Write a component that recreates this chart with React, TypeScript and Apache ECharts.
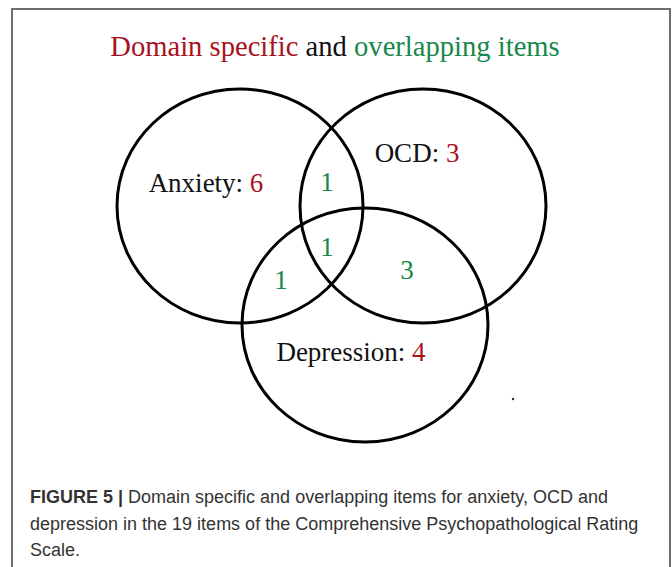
import React, { useEffect, useRef } from "react";
import * as echarts from "echarts";

// ---- data ----
const setNames = ["Anxiety", "OCD", "Depression"];
const setOnlyCounts = [6, 3, 4];
const overlapNames = ["Anxiety ∩ OCD", "Anxiety ∩ OCD ∩ Depression", "Anxiety ∩ Depression", "OCD ∩ Depression"];
const overlapCounts = [1, 1, 1, 3];
const titleParts = ["Domain specific ", "and ", "overlapping items"];
const titleColors = ["#a8121e", "#111111", "#1a874a"];
const captionBold = "FIGURE 5 |";
const captionLines = [
  " Domain specific and overlapping items for anxiety, OCD and",
  "depression in the 19 items of the Comprehensive Psychopathological Rating",
  "Scale.",
];

// ---- layout (frame coordinates) ----
const circleCenters = [[240, 206], [423, 206], [365, 325]];
const circleRadii = [[123, 117], [123, 117], [123, 117]];
const setLabelPos = [[206, 183], [417, 153], [351, 352]];
const overlapLabelPos = [[327, 182], [327, 247], [281, 280], [407, 270]];
const titleCenter = [335, 46];

const SERIF = "Liberation Serif";
const SANS = "Liberation Sans";
const RED = "#a8121e";
const GREEN = "#1a874a";
const TITLE_SIZE = 28.6;

function measure(text: string, font: string) {
  const c = document.createElement("canvas");
  const ctx = c.getContext("2d");
  if (!ctx) return text.length * 12;
  ctx.font = font;
  return ctx.measureText(text).width;
}

export default function App() {
  const ref = useRef<HTMLDivElement>(null);
  useEffect(() => {
    if (!ref.current) return;
    const chart = echarts.init(ref.current, null, { renderer: "svg" });
    const tFont = `${TITLE_SIZE}px "${SERIF}"`;
    const widths = titleParts.map((t) => measure(t, tFont));
    const total = widths.reduce((a, b) => a + b, 0);
    let xCursor = titleCenter[0] - total / 2;
    const titleEls = titleParts.map((t, i) => {
      const el = {
        type: "text",
        silent: true,
        style: {
          x: xCursor,
          y: titleCenter[1],
          text: t,
          font: tFont,
          fill: titleColors[i],
          align: "left",
          verticalAlign: "middle",
        },
      };
      xCursor += widths[i];
      return el;
    });
    chart.setOption({
      animation: false,
      backgroundColor: "#ffffff",
      grid: { left: 0, right: 0, top: 0, bottom: 0 },
      xAxis: { type: "value", min: 0, max: 672, show: false },
      yAxis: { type: "value", min: 0, max: 567, inverse: true, show: false },
      series: [
        {
          type: "custom",
          coordinateSystem: "cartesian2d",
          silent: true,
          clip: false,
          data: circleCenters.map((c, i) => ({
            name: setNames[i],
            value: [c[0], c[1], circleRadii[i][0], circleRadii[i][1]],
          })),
          renderItem: (params: any, api: any) => {
            const p = api.coord([api.value(0), api.value(1)]);
            const s = api.size([api.value(2), api.value(3)]);
            return {
              type: "ellipse",
              shape: { cx: p[0], cy: p[1], rx: s[0], ry: s[1] },
              style: { fill: "none", stroke: "#000", lineWidth: 3 },
            };
          },
        },
        {
          type: "scatter",
          silent: true,
          symbolSize: 1,
          itemStyle: { color: "rgba(0,0,0,0)", opacity: 1 },
          data: setLabelPos.map((p, i) => ({ name: setNames[i], value: p })),
          label: {
            show: true,
            position: "inside",
            opacity: 1,
            formatter: (p: any) => `{n|${p.name}: }{v|${setOnlyCounts[p.dataIndex]}}`,
            rich: {
              n: { fontFamily: SERIF, fontSize: 27, color: "#111" },
              v: { fontFamily: SERIF, fontSize: 27, color: RED },
            },
          },
        },
        {
          type: "scatter",
          silent: true,
          symbolSize: 1,
          itemStyle: { color: "rgba(0,0,0,0)", opacity: 1 },
          data: overlapLabelPos.map((p, i) => ({ name: overlapNames[i], value: p })),
          label: {
            show: true,
            position: "inside",
            opacity: 1,
            formatter: (p: any) => `${overlapCounts[p.dataIndex]}`,
            fontFamily: SERIF,
            fontSize: 27,
            color: GREEN,
          },
        },
      ],
      graphic: [
        {
          type: "rect",
          silent: true,
          shape: { x: 12, y: 9, width: 658, height: 620 },
          style: { fill: "none", stroke: "#6e6e6e", lineWidth: 2 },
        },
        ...titleEls,
        {
          type: "circle",
          silent: true,
          shape: { cx: 513, cy: 399, r: 1.2 },
          style: { fill: "#222" },
        },
        {
          type: "text",
          silent: true,
          style: {
            x: 30,
            y: 497,
            text: `{b|${captionBold}}${captionLines[0]}`,
            fontFamily: SANS,
            fontSize: 18,
            fill: "#333",
            verticalAlign: "middle",
            rich: { b: { fontFamily: SANS, fontSize: 18, fontWeight: "bold", fill: "#333" } },
          },
        },
        {
          type: "text",
          silent: true,
          style: { x: 30, y: 524, text: captionLines[1], fontFamily: SANS, fontSize: 18, fill: "#333", verticalAlign: "middle" },
        },
        {
          type: "text",
          silent: true,
          style: { x: 30, y: 550, text: captionLines[2], fontFamily: SANS, fontSize: 18, fill: "#333", verticalAlign: "middle" },
        },
      ],
    });
    return () => chart.dispose();
  }, []);
  return (
    <div
      ref={ref}
      style={{ position: "fixed", left: 0, top: 0, width: 672, height: 567 }}
    />
  );
}
